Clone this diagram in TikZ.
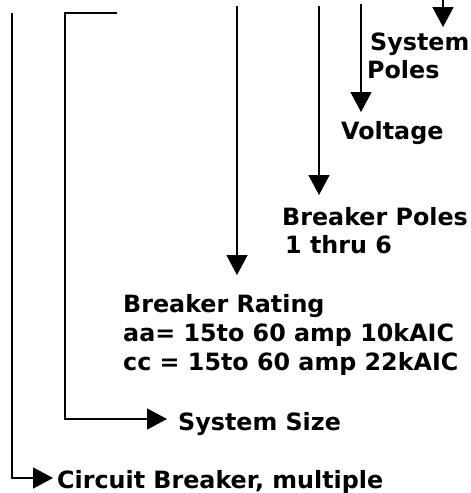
\documentclass[tikz,border=0pt]{standalone}
\usepackage{fontspec}
\setmainfont{DejaVu Sans}
\usetikzlibrary{arrows.meta}
\begin{document}
\begin{tikzpicture}[x=1pt,y=-1pt,
  conn/.style={line width=1.5pt,draw=black},
  arr/.style={conn,-{Triangle[length=20pt,width=21pt]}},
  lbl/.style={anchor=base west,inner sep=0pt,font=\fontsize{23.8}{29}\selectfont\bfseries}]
\useasboundingbox (0,0) rectangle (471,493);
% labels
\node[lbl] (sys)  at (370,50)  {System};
\node[lbl] (sysb) at (367,78)  {Poles};
\node[lbl] (volt) at (341,139) {Voltage};
\node[lbl] (bp)   at (282,225) {Breaker Poles};
\node[lbl] (bpb)  at (285,253) {1 thru 6};
\node[lbl] (br)   at (123,312) {Breaker Rating};
\node[lbl] (brb)  at (123,341) {aa= 15to 60 amp 10kAIC};
\node[lbl] (brc)  at (123,370) {cc = 15to 60 amp 22kAIC};
\node[lbl] (ss)   at (178,430) {System Size};
\node[lbl] (cb)   at (57,488)  {Circuit Breaker, multiple};
% connector ends
\coordinate (a1) at (12,13);   \coordinate (a1c) at (12,478);  \coordinate (a1t) at (53,478);
\coordinate (a2) at (117,13);  \coordinate (a2c) at (65,13);   \coordinate (a2d) at (65,419); \coordinate (a2t) at (167,419);
\coordinate (a3) at (237,6);   \coordinate (a3t) at (237,275);
\coordinate (a4) at (319,6);   \coordinate (a4t) at (319,195);
\coordinate (a5) at (361,4);   \coordinate (a5t) at (361,112);
\coordinate (a6) at (443,0);   \coordinate (a6t) at (443,27);
\draw[arr] (a1) -- (a1c) -- (a1t);
\draw[arr] (a2) -- (a2c) -- (a2d) -- (a2t);
\draw[arr] (a3) -- (a3t);
\draw[arr] (a4) -- (a4t);
\draw[arr] (a5) -- (a5t);
\draw[arr] (a6) -- (a6t);
\end{tikzpicture}
\end{document}
